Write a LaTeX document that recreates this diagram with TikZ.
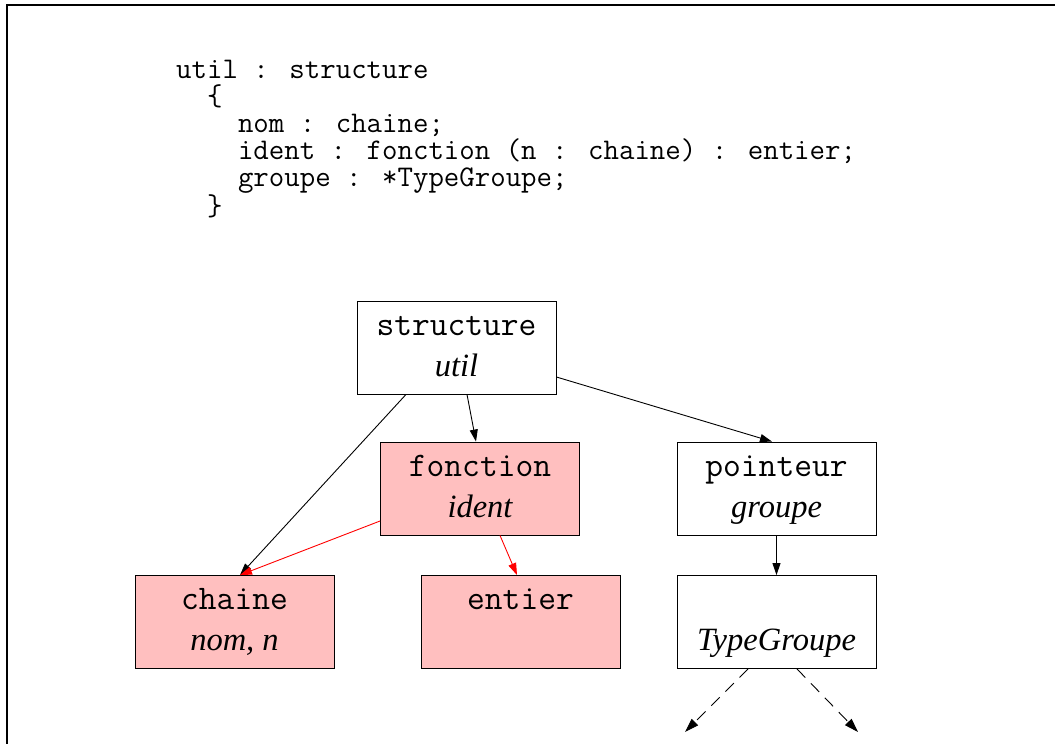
\documentclass[tikz,border=0pt]{standalone}
\usepackage{fontspec}
\setmainfont{Liberation Serif}
\usepackage{xcolor}
\usetikzlibrary{positioning,arrows.meta,calc}

\begin{document}
\begin{tikzpicture}[x=1pt, y=-1pt, every node/.style={align=center},
  box/.style={draw, line width=0.9pt, minimum width=199pt, minimum height=93pt, inner sep=2pt,
    font=\fontsize{34.5}{41}\selectfont},
  redbox/.style={box, fill=red!25},
  arr/.style={-{Triangle[length=12pt, width=8pt]}, line width=0.9pt},
  redarr/.style={arr, red},
  dasharr/.style={-{Triangle[length=14pt, width=9pt]}, line width=0.9pt, dash pattern=on 12pt off 8pt}]
\useasboundingbox (0,0) rectangle (1055,744);
\draw[line width=1.3pt] (7,744) -- (7,5) -- (1055,5);
% declaration
\node[anchor=north west, inner sep=0pt, align=left, font=\fontsize{30}{27}\ttfamily] (decl) at (176,60)
  {util : structure\\
   \phantom{xx}\{\\
   \phantom{xxxx}nom : chaine;\\
   \phantom{xxxx}ident : fonction (n : chaine) : entier;\\
   \phantom{xxxx}groupe : *TypeGroupe;\\
   \phantom{xx}\}};
% tree
\node[box] (struct) at (456.5,347.5) {\strut\ttfamily structure\\\strut{\fontsize{32.5}{41}\selectfont\itshape util}};
\node[redbox] (fonct) at (480,488.5) {\strut\ttfamily fonction\\\strut{\fontsize{32.5}{41}\selectfont\itshape ident}};
\node[box] (point) at (776.5,488.5) {\strut\ttfamily pointeur\\\strut{\fontsize{32.5}{41}\selectfont\itshape groupe}};
\node[redbox] (chaine) at (234.5,622) {\strut\ttfamily chaine\\\strut{\fontsize{32.5}{41}\selectfont\itshape nom, n}};
\node[redbox] (entier) at (520.5,622) {\strut\ttfamily entier\\\strut};
\node[box] (typeg) at (776.5,622) {\strut\\\strut{\fontsize{32.5}{41}\selectfont\itshape TypeGroupe}};
\coordinate (dl) at (685,732);
\coordinate (dr) at (858,732);
\draw[arr] ([xshift=-50.5pt]struct.south) -- ([xshift=5.5pt]chaine.north);
\draw[arr] ([xshift=10.5pt]struct.south) -- ([xshift=-4pt]fonct.north);
\draw[arr] ([yshift=-29.5pt]struct.east) -- ([xshift=-4.5pt]point.north);
\draw[redarr] ([yshift=-32.5pt]fonct.west) -- ([xshift=5.5pt]chaine.north);
\draw[redarr] ([xshift=20pt]fonct.south) -- ([xshift=-3.5pt]entier.north);
\draw[arr] (point) -- (typeg);
\draw[dasharr] ([xshift=-28.5pt]typeg.south) -- (dl);
\draw[dasharr] ([xshift=20.5pt]typeg.south) -- (dr);
\end{tikzpicture}
\end{document}
